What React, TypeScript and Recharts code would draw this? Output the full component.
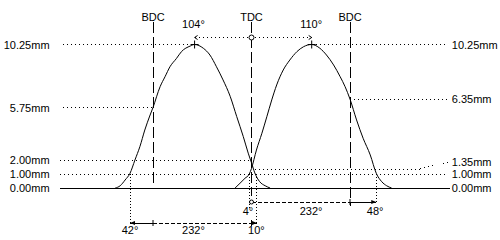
import React from 'react';
import { ComposedChart, Line, XAxis, YAxis, ReferenceLine, ReferenceDot } from 'recharts';

// crank angle in degrees (TDC = 0) and valve lift in mm
const exhaustDeg = [-249, -240, -231, -222, -213, -204, -195, -186, -180, -167, -158, -149, -137, -128, -112, -104, -88, -76, -64, -52, -39, -27, -15, -6, 0, 6, 15, 25, 34];
const exhaustLift = [0, 0.16, 0.57, 1.05, 2.0, 2.95, 4.14, 5.14, 5.75, 7.24, 7.95, 8.66, 9.26, 9.74, 10.14, 10.25, 9.98, 9.5, 8.66, 7.72, 6.55, 5.1, 3.67, 2.49, 1.8, 1.08, 0.45, 0.16, 0];

const intakeDeg = [-30, -21, -12, -4, 0, 9, 19, 28, 37, 46, 58, 70, 83, 95, 110, 125, 137, 150, 162, 171, 180, 192, 204, 217, 228, 238, 247, 256];
const intakeLift = [0, 0.34, 0.69, 1.0, 1.4, 2.71, 3.91, 5.09, 6.29, 7.36, 8.43, 9.14, 9.74, 10.09, 10.25, 9.98, 9.5, 8.79, 7.95, 7.24, 6.35, 4.86, 3.55, 2.36, 1.05, 0.45, 0.16, 0];

// annotated timing points (deg) and lift values (mm)
const bdcLeft = -180;
const tdc = 0;
const bdcRight = 180;
const exhaustOpen = -222;
const exhaustClose = 10;
const intakeOpen = -4;
const intakeClose = 228;
const exhaustPeak = -104;
const intakePeak = 110;
const peakLift = 10.25;

const leftLabels = ['10.25mm', '5.75mm', '2.00mm', '1.00mm', '0.00mm'];
const leftLabelLift = [10.25, 5.75, 2.0, 1.0, 0];
const rightLabels = ['10.25mm', '6.35mm', '1.35mm', '1.00mm', '0.00mm'];
const rightLabelLift = [10.25, 6.35, 1.88, 1.0, 0];

const exhaustData = exhaustDeg.map((deg, i) => ({ deg, lift: exhaustLift[i] }));
const intakeData = intakeDeg.map((deg, i) => ({ deg, lift: intakeLift[i] }));

const FONT = "'Liberation Sans', Arial, sans-serif";
const DOTS = '1 3';
const DROP = '1 2';
const LONG_DASH = '11 4';
const SHORT_DASH = '4 2';

const textShape = (text: string, anchor: 'start' | 'middle' | 'end' = 'middle') => (p: any) => (
  <text x={p.cx} y={p.cy} textAnchor={anchor} dominantBaseline="central" fontSize={11} fontFamily={FONT} fill="#000">
    {text}
  </text>
);

const plus = (p: any) => (
  <path d={`M${p.cx - 4},${p.cy}H${p.cx + 4}M${p.cx},${p.cy - 4}V${p.cy + 4}`} stroke="#000" fill="none" />
);
const ring = (p: any) => <circle cx={p.cx} cy={p.cy} r={2.5} fill="#fff" stroke="#000" />;
const smallRing = (p: any) => <circle cx={p.cx} cy={p.cy} r={2} fill="#fff" stroke="#000" />;
const chevronLeft = (p: any) => (
  <path d={`M${p.cx + 3},${p.cy - 2}L${p.cx},${p.cy}L${p.cx + 3},${p.cy + 2}`} stroke="#000" fill="none" />
);
const chevronRight = (p: any) => (
  <path d={`M${p.cx - 3},${p.cy - 2}L${p.cx},${p.cy}L${p.cx - 3},${p.cy + 2}`} stroke="#000" fill="none" />
);
const arrowLeft = (p: any) => <path d={`M${p.cx},${p.cy}L${p.cx + 5},${p.cy - 2}L${p.cx + 5},${p.cy + 2}Z`} fill="#000" />;
const arrowRight = (p: any) => <path d={`M${p.cx},${p.cy}L${p.cx - 5},${p.cy - 2}L${p.cx - 5},${p.cy + 2}Z`} fill="#000" />;
const tick = (p: any) => <path d={`M${p.cx},${p.cy - 3}V${p.cy + 3}`} stroke="#000" fill="none" />;

const seg = (x1: number, y1: number, x2: number, y2: number, dash?: string, key?: string) => (
  <ReferenceLine
    key={key ?? `${x1}-${y1}-${x2}-${y2}`}
    segment={[{ x: x1, y: y1 }, { x: x2, y: y2 }]}
    stroke="#000"
    strokeWidth={1}
    strokeDasharray={dash}
    shapeRendering="crispEdges"
    ifOverflow="visible"
  />
);

const mark = (x: number, y: number, shape: any, key: string) => (
  <ReferenceDot key={key} x={x} y={y} r={0} shape={shape} ifOverflow="visible" />
);

export default function App() {
  const dimLow = -2.5;
  const dimHigh = -1.0;
  const topLine = 10.75;

  return (
    <div style={{ position: 'absolute', left: 0, top: 0, width: 500, height: 240, background: '#fff' }}>
      <ComposedChart width={500} height={240} margin={{ top: 6, right: 51.5, bottom: 10, left: 54.5 }}>
        <XAxis dataKey="deg" type="number" domain={[-360, 360]} allowDataOverflow hide />
        <YAxis type="number" domain={[-3, 13]} allowDataOverflow hide />

        {/* horizontal guide lines */}
        {seg(-344, peakLift, exhaustPeak, peakLift, DOTS, 'g1')}
        {seg(intakePeak, peakLift, 357, peakLift, DOTS, 'g2')}
        {seg(-344, 5.75, bdcLeft, 5.75, DOTS, 'g3')}
        {seg(bdcRight, 6.35, 357, 6.35, DOTS, 'g4')}
        {seg(-350, 2.0, tdc, 2.0, DOTS, 'g5')}
        {seg(-350, 1.0, 359, 1.0, DOTS, 'g6')}
        {seg(6, 1.35, 308, 1.35, DOTS, 'g7')}
        {seg(308, 1.35, 362, 1.88, DOTS, 'g8')}

        {/* baseline */}
        {seg(-350, 0, 363, 0, undefined, 'base')}

        {/* BDC / TDC */}
        {seg(bdcLeft, 11.88, bdcLeft, 0.1, LONG_DASH, 'v1')}
        {seg(tdc, 11.88, tdc, -0.6, LONG_DASH, 'v2')}
        {seg(bdcRight, 11.88, bdcRight, -1.3, LONG_DASH, 'v3')}

        {/* peak to peak */}
        {seg(exhaustPeak, topLine, intakePeak, topLine, DOTS, 'top')}

        {/* timing drops */}
        {seg(exhaustOpen, 1.0, exhaustOpen, dimLow, DROP, 'd1')}
        {seg(exhaustClose, 1.0, exhaustClose, dimLow, DROP, 'd2')}
        {seg(intakeOpen, 1.0, intakeOpen, dimHigh - 0.5, DROP, 'd3')}
        {seg(intakeClose, 1.0, intakeClose, dimHigh, DROP, 'd4')}

        {/* exhaust duration */}
        {seg(exhaustOpen, dimLow, bdcLeft, dimLow, undefined, 'e1')}
        {seg(bdcLeft, dimLow, tdc, dimLow, SHORT_DASH, 'e2')}
        {seg(tdc, dimLow, exhaustClose, dimLow, undefined, 'e3')}

        {/* intake duration */}
        {seg(intakeOpen, dimHigh, tdc, dimHigh, undefined, 'i1')}
        {seg(tdc, dimHigh, bdcRight, dimHigh, SHORT_DASH, 'i2')}
        {seg(bdcRight, dimHigh, intakeClose, dimHigh, undefined, 'i3')}

        <Line data={exhaustData} dataKey="lift" type="monotone" stroke="#000" strokeWidth={1} dot={false} isAnimationActive={false} />
        <Line data={intakeData} dataKey="lift" type="monotone" stroke="#000" strokeWidth={1} dot={false} isAnimationActive={false} />

        {mark(exhaustPeak, peakLift, plus, 'p1')}
        {mark(intakePeak, peakLift, plus, 'p2')}
        {mark(tdc, topLine, ring, 'r1')}
        {mark(exhaustPeak, topLine, chevronLeft, 'c1')}
        {mark(intakePeak, topLine, chevronRight, 'c2')}

        {mark(exhaustOpen, dimLow, arrowLeft, 'a1')}
        {mark(exhaustClose, dimLow, arrowRight, 'a2')}
        {mark(bdcLeft, dimLow, tick, 't1')}
        {mark(tdc, dimLow, tick, 't2')}
        {mark(intakeClose, dimHigh, arrowRight, 'a3')}
        {mark(bdcRight, dimHigh, tick, 't3')}
        {mark(tdc, dimHigh, smallRing, 'r2')}

        {/* texts */}
        {mark(bdcLeft, 12.18, textShape('BDC'), 'l-bdc1')}
        {mark(tdc, 12.18, textShape('TDC'), 'l-tdc')}
        {mark(bdcRight, 12.18, textShape('BDC'), 'l-bdc2')}
        {mark(-106, 11.71, textShape('104°'), 'l-104')}
        {mark(109, 11.71, textShape('110°'), 'l-110')}

        {mark(exhaustOpen, -3.0, textShape('42°'), 'l-42')}
        {mark(-106, -3.0, textShape('232°'), 'l-232a')}
        {mark(9, -3.0, textShape('10°'), 'l-10')}
        {mark(-6.5, -1.64, textShape('4°'), 'l-4')}
        {mark(109, -1.64, textShape('232°'), 'l-232b')}
        {mark(226, -1.64, textShape('48°'), 'l-48')}

        {leftLabels.map((t, i) => mark(-369, leftLabelLift[i], textShape(t, 'end'), `ll${i}`))}
        {rightLabels.map((t, i) => mark(366, rightLabelLift[i], textShape(t, 'start'), `rl${i}`))}
      </ComposedChart>
    </div>
  );
}
